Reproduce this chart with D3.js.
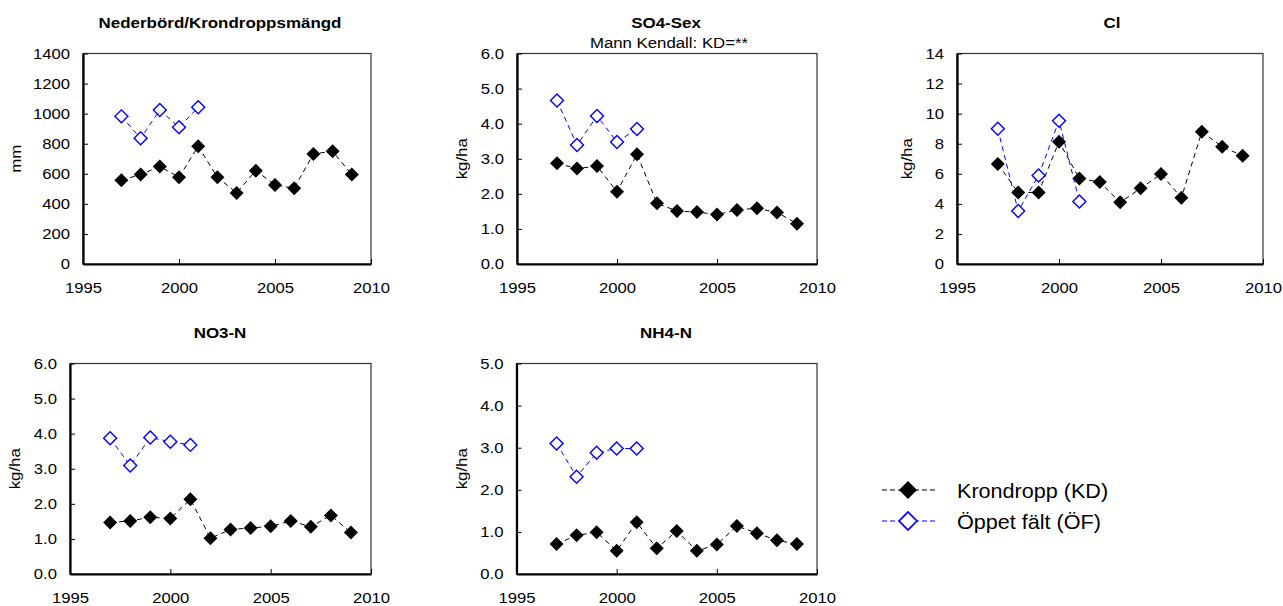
<!DOCTYPE html>
<html>
<head>
<meta charset="utf-8">
<script src="https://cdn.jsdelivr.net/npm/d3@7"></script>
<style>
  html, body { margin: 0; padding: 0; background: #fff; }
  svg { display: block; font-family: "Liberation Sans", Arial, sans-serif; }
</style>
</head>
<body>
<svg id="chart" width="1283" height="606"></svg>
<script>
// Annual deposition, throughfall (Krondropp, KD) and open field (Öppet fält, ÖF)
const years   = [1997, 1998, 1999, 2000, 2001, 2002, 2003, 2004, 2005, 2006, 2007, 2008, 2009];
const ofYears = [1997, 1998, 1999, 2000, 2001];

const precipKD = [557, 595, 648, 577, 783, 577, 473, 621, 526, 504, 732, 750, 595];
const precipOF = [982, 836, 1024, 909, 1042];

const so4KD = [2.87, 2.72, 2.79, 2.06, 3.13, 1.73, 1.51, 1.48, 1.41, 1.54, 1.59, 1.47, 1.15];
const so4OF = [4.66, 3.39, 4.22, 3.48, 3.85];

const clKD = [6.65, 4.76, 4.76, 8.13, 5.69, 5.45, 4.10, 5.03, 5.98, 4.41, 8.79, 7.80, 7.20];
const clOF = [8.99, 3.52, 5.89, 9.53, 4.16];

const no3KD = [1.47, 1.51, 1.62, 1.58, 2.13, 1.02, 1.27, 1.31, 1.36, 1.51, 1.35, 1.67, 1.18];
const no3OF = [3.87, 3.09, 3.89, 3.77, 3.68];

const nh4KD = [0.71, 0.92, 0.99, 0.55, 1.23, 0.61, 1.02, 0.55, 0.70, 1.14, 0.97, 0.80, 0.71];
const nh4OF = [3.10, 2.31, 2.88, 2.98, 2.98];

const xTicks = [1995, 2000, 2005, 2010];
const precipTicks = [0, 200, 400, 600, 800, 1000, 1200, 1400];
const so4Ticks = [0, 1, 2, 3, 4, 5, 6];
const clTicks = [0, 2, 4, 6, 8, 10, 12, 14];
const no3Ticks = [0, 1, 2, 3, 4, 5, 6];
const nh4Ticks = [0, 1, 2, 3, 4, 5];

const seriesNames = ["Krondropp (KD)", "Öppet fält (ÖF)"];

// Panel definitions: data + frame geometry
const panels = [
  { title: "Nederbörd/Krondroppsmängd", sub: null, unit: "mm", kd: precipKD, of: precipOF,
    ticks: precipTicks, fmt: d3.format("d"),
    box: { l: 83, r: 371, t: 53.5, b: 264 }, titleX: 220, unitX: 16 },
  { title: "SO4-Sex", sub: "Mann Kendall: KD=**", unit: "kg/ha", kd: so4KD, of: so4OF,
    ticks: so4Ticks, fmt: d3.format(".1f"),
    box: { l: 517, r: 817, t: 53.5, b: 264 }, titleX: 666, unitX: 462 },
  { title: "Cl", sub: null, unit: "kg/ha", kd: clKD, of: clOF,
    ticks: clTicks, fmt: d3.format("d"),
    box: { l: 957, r: 1263, t: 53.5, b: 264 }, titleX: 1112, unitX: 907 },
  { title: "NO3-N", sub: null, unit: "kg/ha", kd: no3KD, of: no3OF,
    ticks: no3Ticks, fmt: d3.format(".1f"),
    box: { l: 70, r: 371, t: 363.5, b: 574 }, titleX: 220, unitX: 15 },
  { title: "NH4-N", sub: null, unit: "kg/ha", kd: nh4KD, of: nh4OF,
    ticks: nh4Ticks, fmt: d3.format(".1f"),
    box: { l: 516.5, r: 817, t: 363.5, b: 574 }, titleX: 666, unitX: 462 }
];

const BLUE = "#0000ff";
const TICK_FONT = 14.5, TICK_SX = 1.15;

const svg = d3.select("#chart");

// Text with a slight horizontal stretch in its own frame
function stext(parent, x, y, str, o) {
  const g = parent.append("g")
    .attr("transform", `translate(${x},${y}) rotate(${o.rotate || 0}) scale(${o.sx || 1},1)`);
  return g.append("text")
    .attr("text-anchor", o.anchor || "middle")
    .attr("dy", o.dy || 0)
    .attr("font-size", o.size)
    .attr("font-weight", o.weight || "normal")
    .attr("fill", "#000")
    .text(str);
}

const sqSmall = d3.symbol().type(d3.symbolSquare).size(98)();
const sqOpen  = d3.symbol().type(d3.symbolSquare).size(84)();
const sqLegend = d3.symbol().type(d3.symbolSquare).size(162)();

panels.forEach(p => {
  const { l, r, t, b } = p.box;
  const x = d3.scaleLinear().domain([1995, 2010]).range([l, r]);
  const y = d3.scaleLinear().domain([p.ticks[0], p.ticks[p.ticks.length - 1]]).range([b, t]);
  const g = svg.append("g");

  // plot frame
  g.append("rect").attr("x", l).attr("y", t).attr("width", r - l).attr("height", b - t)
    .attr("fill", "none").attr("stroke", "#333").attr("stroke-width", 1.2);

  // y axis, ticks pointing inward
  const ya = g.append("g").attr("transform", `translate(${l},0)`)
    .call(d3.axisLeft(y).tickValues(p.ticks).tickFormat(p.fmt).tickSizeInner(-5).tickSizeOuter(0).tickPadding(13));
  ya.select(".domain").attr("stroke", "#000").attr("stroke-width", 2.2);
  ya.selectAll(".tick line").attr("stroke", "#000");
  ya.selectAll(".tick text").attr("font-size", TICK_FONT).attr("fill", "#000")
    .attr("x", -13 / TICK_SX).attr("transform", `scale(${TICK_SX},1)`)
    .attr("font-family", null);

  // x axis, ticks pointing inward
  const xa = g.append("g").attr("transform", `translate(0,${b})`)
    .call(d3.axisBottom(x).tickValues(xTicks).tickFormat(d3.format("d")).tickSizeInner(-5).tickSizeOuter(0).tickPadding(19));
  xa.select(".domain").attr("stroke", "#000").attr("stroke-width", 2.2);
  xa.selectAll(".tick line").attr("stroke", "#000");
  xa.selectAll(".tick text").attr("font-size", TICK_FONT).attr("fill", "#000")
    .attr("transform", `scale(${TICK_SX},1)`).attr("font-family", null);

  // titles
  stext(g, p.titleX, t - 26, p.title, { size: 15, weight: "bold", sx: 1.13 });
  if (p.sub) stext(g, p.titleX + 3, t - 5.5, p.sub, { size: 15, sx: 1.12 });

  // unit label
  stext(g, p.unitX, (t + b) / 2, p.unit, { size: 15, sx: 1.12, rotate: -90, dy: "0.33em" });

  const line = d3.line().x(d => x(d[0])).y(d => y(d[1]));
  const kdPts = years.map((yr, i) => [yr, p.kd[i]]);
  const ofPts = ofYears.map((yr, i) => [yr, p.of[i]]);

  // throughfall series
  g.append("path").datum(kdPts).attr("d", line)
    .attr("fill", "none").attr("stroke", "#000").attr("stroke-width", 1).attr("stroke-dasharray", "5,4");
  g.selectAll(".kd").data(kdPts).join("path").attr("class", "kd")
    .attr("d", sqSmall)
    .attr("transform", d => `translate(${x(d[0])},${y(d[1])}) rotate(45)`)
    .attr("fill", "#000");

  // open field series
  g.append("path").datum(ofPts).attr("d", line)
    .attr("fill", "none").attr("stroke", BLUE).attr("stroke-width", 1).attr("stroke-dasharray", "5,4");
  g.selectAll(".of").data(ofPts).join("path").attr("class", "of")
    .attr("d", sqOpen)
    .attr("transform", d => `translate(${x(d[0])},${y(d[1])}) rotate(45)`)
    .attr("fill", "#fff").attr("stroke", BLUE).attr("stroke-width", 1.4);
});

// legend
const legend = svg.append("g");
const legRows = [
  { name: seriesNames[0], y: 490, color: "#000", fill: "#000" },
  { name: seriesNames[1], y: 521, color: BLUE, fill: "#fff" }
];
legRows.forEach(row => {
  legend.append("line").attr("x1", 882).attr("x2", 935).attr("y1", row.y).attr("y2", row.y)
    .attr("stroke", row.color).attr("stroke-width", 1.2).attr("stroke-dasharray", "5,3");
  legend.append("path").attr("d", sqLegend)
    .attr("transform", `translate(908,${row.y}) rotate(45)`)
    .attr("fill", row.fill).attr("stroke", row.color).attr("stroke-width", row.fill === "#fff" ? 1.6 : 0);
  stext(legend, 957, row.y + 7.5, row.name, { size: 20, sx: 1.08, anchor: "start" });
});
</script>
</body>
</html>
